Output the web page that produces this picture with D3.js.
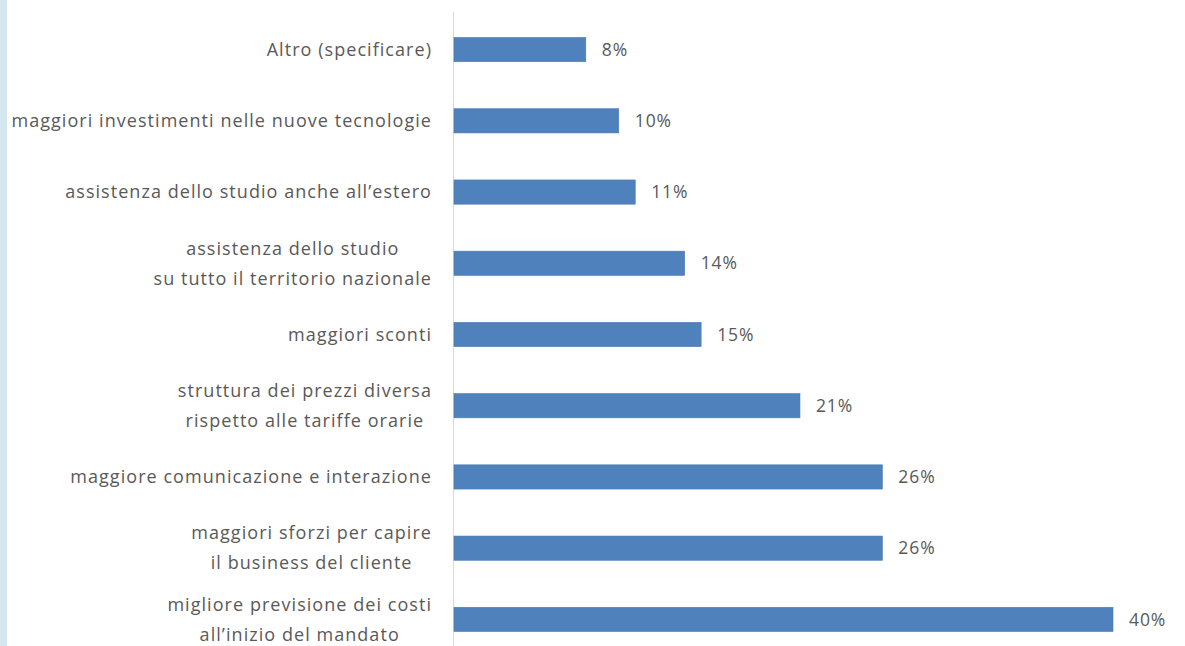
<!DOCTYPE html>
<html>
<head>
<meta charset="utf-8">
<script src="https://cdn.jsdelivr.net/npm/d3@7"></script>
<style>
  html, body { margin: 0; padding: 0; background: #ffffff; }
  svg { display: block; }
</style>
</head>
<body>
<script>
// Survey answers, top to bottom, as shown on the chart
const categories = [
  ["Altro (specificare)"],
  ["maggiori investimenti nelle nuove tecnologie"],
  ["assistenza dello studio anche all\u2019estero"],
  ["assistenza dello studio", "su tutto il territorio nazionale"],
  ["maggiori sconti"],
  ["struttura dei prezzi diversa", "rispetto alle tariffe orarie"],
  ["maggiore comunicazione e interazione"],
  ["maggiori sforzi per capire", "il business del cliente"],
  ["migliore previsione dei costi", "all\u2019inizio del mandato"]
];
const values = [8, 10, 11, 14, 15, 21, 26, 26, 40];
const valueLabels = ["8%", "10%", "11%", "14%", "15%", "21%", "26%", "26%", "40%"];

const W = 1185, H = 646;
const svg = d3.select("body").append("svg").attr("width", W).attr("height", H);

// light blue strip along the left edge
svg.append("rect").attr("x", 0).attr("y", 0).attr("width", 7).attr("height", H).attr("fill", "#d4e7ef");

const x = d3.scaleLinear().domain([0, 40]).range([454, 1113]);
const y = d3.scaleBand().domain(d3.range(categories.length)).range([14, 655]).paddingInner(0.66).paddingOuter(0.33);

// category axis line
svg.append("line")
  .attr("x1", 453.5).attr("x2", 453.5).attr("y1", 12).attr("y2", H)
  .attr("stroke", "#d9d9d9").attr("stroke-width", 1);

const font = "'Open Sans', sans-serif";
const textColor = "#595959";

svg.append("g").selectAll("rect").data(values).join("rect")
  .attr("x", x(0))
  .attr("y", (d, i) => y(i))
  .attr("width", d => x(d) - x(0))
  .attr("height", y.bandwidth())
  .attr("fill", "#4f81bd")
  .attr("stroke", "#4a7ab3").attr("stroke-width", 0.6);

svg.append("g").selectAll("text").data(values).join("text")
  .attr("x", d => x(d) + 16)
  .attr("y", (d, i) => y(i) + y.bandwidth() / 2)
  .attr("dy", "0.35em")
  .attr("font-family", font).attr("font-size", 17.5)
  .attr("letter-spacing", 0.9)
  .attr("fill", textColor)
  .text((d, i) => valueLabels[i]);

// category labels, right-aligned block; wrapped lines centered within it
const labelRight = 432, lineGap = 30;
const lab = svg.append("g");
categories.forEach((lines, i) => {
  const cy = y(i) + y.bandwidth() / 2;
  const g = lab.append("g");
  const texts = lines.map((t, k) => g.append("text")
    .attr("y", cy + (k - (lines.length - 1) / 2) * lineGap)
    .attr("dy", "0.35em")
    .attr("font-family", font).attr("font-size", 18)
    .attr("letter-spacing", 1.05)
    .attr("fill", textColor)
    .text(t));
  const maxW = d3.max(texts, t => t.node().getComputedTextLength());
  texts.forEach(t => t.attr("text-anchor", "middle").attr("x", labelRight - maxW / 2));
});
</script>
</body>
</html>
